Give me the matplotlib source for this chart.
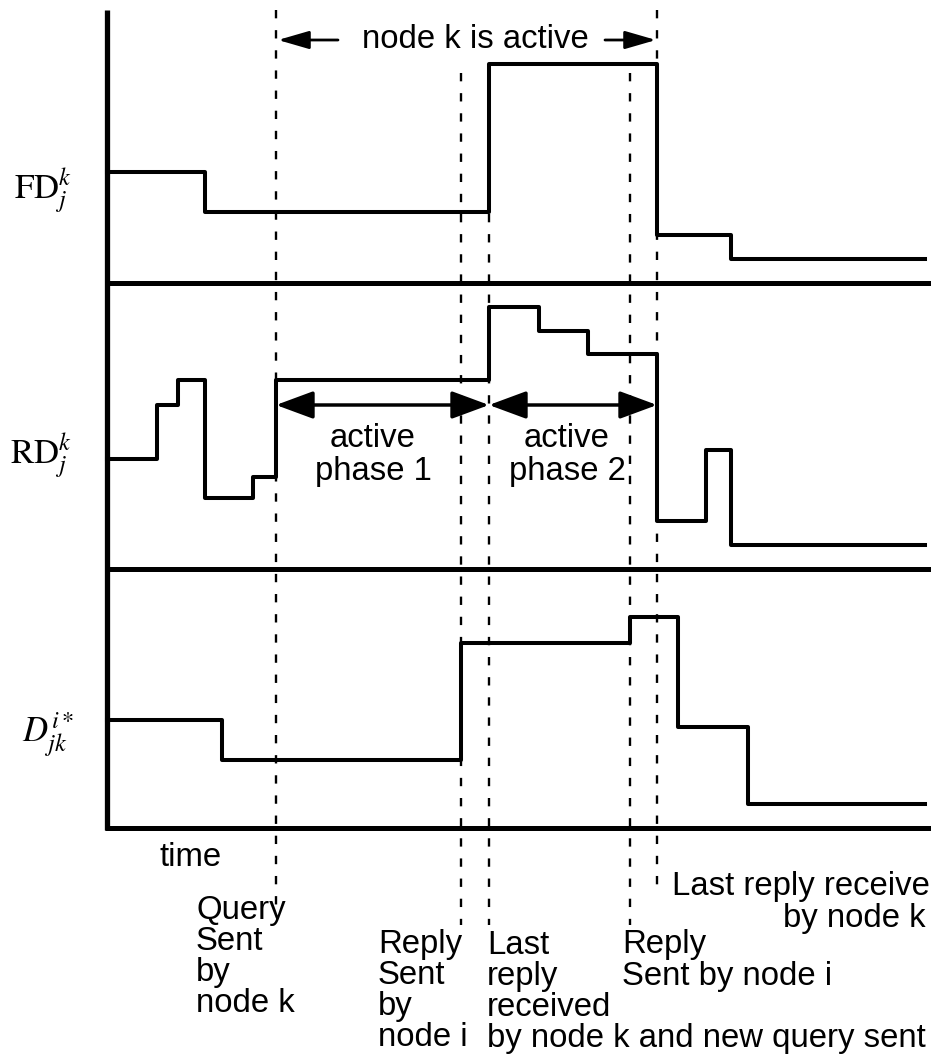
import matplotlib
matplotlib.use('Agg')
import matplotlib.pyplot as plt

plt.rcParams['font.family'] = ['Liberation Sans', 'DejaVu Sans']
plt.rcParams['mathtext.fontset'] = 'stix'
plt.rcParams['lines.scale_dashes'] = False

W, H = 931, 1059

# ---- data (time positions and signal levels) ----
fd_t = [107, 205, 489, 657, 731, 925]
fd_v = [172, 212, 64, 235, 259]
rd_t = [107, 157, 178, 205, 253, 276, 489, 539, 588, 657, 706, 731, 925]
rd_v = [459, 405, 380, 498, 477, 380, 307, 331, 354, 521, 450, 545]
d_t = [107, 222, 461, 630, 678, 748, 925]
d_v = [720, 760, 643, 617, 727, 804]

panel_labels = [r'$\mathrm{FD}_j^k$', r'$\mathrm{RD}_j^k$', r'$D_{jk}^{i*}$']
event_x = [276, 461, 489, 630, 657]
event_top = [10, 73, 73, 73, 10]
event_bottom = [910, 925, 925, 925, 885]

event_texts = [["Query", "Sent", "by", "node k"],
               ["Reply", "Sent", "by", "node i"],
               ["Last", "reply", "received", "by node k and new query sent"],
               ["Reply", "Sent by node i"]]
phase_texts = ["active\nphase 1", "active\nphase 2"]

fig = plt.figure(figsize=(W / 100, H / 100), dpi=100)
ax = fig.add_axes([0, 0, 1, 1])
ax.set_xlim(0, W)
ax.set_ylim(H, 0)
ax.axis('off')

# axes frame
ax.plot([107, 107], [10, 830], color='black', lw=3.8, solid_capstyle='butt')
for yb in [283, 569, 828]:
    ax.plot([105, W], [yb, yb], color='black', lw=3.6, solid_capstyle='butt')

# signals
for t, v in [(fd_t, fd_v), (rd_t, rd_v), (d_t, d_v)]:
    ax.step(t, v + [v[-1]], where='post', color='black', lw=2.9)

# event dashed lines
for x, y0, y1 in zip(event_x, event_top, event_bottom):
    ax.plot([x, x], [y0, y1], color='black', lw=1.7, dashes=(6, 8.5))

FS = 23.7
# panel labels
ax.text(14, 190, panel_labels[0], fontsize=25, va='center', ha='left')
ax.text(10, 455, panel_labels[1], fontsize=25, va='center', ha='left')
ax.text(22, 735, panel_labels[2], fontsize=25, va='center', ha='left')

# top "node k is active"
ax.text(475, 40, "node k is active", fontsize=FS, ha='center', va='center')
ax.annotate('', xy=(278, 40), xytext=(338, 40),
            arrowprops=dict(arrowstyle='-|>,head_length=1.9,head_width=0.55',
                            color='black', lw=2.0, shrinkA=0, shrinkB=0))
ax.annotate('', xy=(656, 40), xytext=(605, 40),
            arrowprops=dict(arrowstyle='-|>,head_length=1.9,head_width=0.55',
                            color='black', lw=2.0, shrinkA=0, shrinkB=0))

# active phase arrows
phase_bounds = [(event_x[0], event_x[2]), (event_x[2], event_x[4])]
for (a, b), txt in zip(phase_bounds, phase_texts):
    ax.annotate('', xy=(b, 405), xytext=(a, 405),
                arrowprops=dict(arrowstyle='<|-|>,head_length=2.3,head_width=0.85',
                                color='black', lw=2.5, shrinkA=0, shrinkB=0))
ax.text(373, 455, phase_texts[0], fontsize=FS, ha='center', va='center', linespacing=1.05)
ax.text(567, 455, phase_texts[1], fontsize=FS, ha='center', va='center', linespacing=1.05)

# time
ax.text(160, 858, "time", fontsize=FS, ha='left', va='center')

# bottom event descriptions, one line at a time
LS = 31
starts = [(196, 910), (378, 945), (487, 945), (622, 945)]
for (x0, y0), lines in zip(starts, event_texts):
    for i, line in enumerate(lines):
        ax.text(x0, y0 + i * LS, line, fontsize=FS, ha='left', va='center')
ax.text(672, 887, "Last reply receive", fontsize=FS, ha='left', va='center')
ax.text(926, 918, "by node k", fontsize=FS, ha='right', va='center')

fig.savefig('out.png', dpi=100, facecolor='white')
